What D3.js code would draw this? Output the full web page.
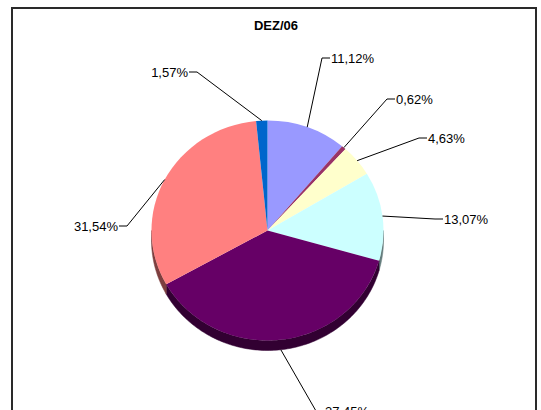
<!DOCTYPE html>
<html>
<head>
<meta charset="utf-8">
<script src="https://cdn.jsdelivr.net/npm/d3@7"></script>
<style>
  body { margin: 0; background: #fff; }
  svg { display: block; font-family: 'Liberation Sans', Arial, sans-serif; }
</style>
</head>
<body>
<svg id="chart" width="541" height="410"></svg>
<script>
// data, clockwise from 12 o'clock
const title = 'DEZ/06';
const values = [11.12, 0.62, 4.63, 13.07, 37.45, 31.54, 1.57];
const labels = ['11,12%', '0,62%', '4,63%', '13,07%', '37,45%', '31,54%', '1,57%'];
const colors = ['#9999FF', '#993366', '#FFFFCC', '#CCFFFF', '#660066', '#FF8080', '#0066CC'];

// where each label's leader bends (hand placed like in the original)
const labelBend = [[322, 58], [387, 99], [419, 138], [435, 219], [316, 411], [127, 226], [197, 72]];
const labelSide = [1, 1, 1, 1, 1, -1, -1];

const cx = 267.5, cy = 230.5, rx = 116, ry = 110, depth = 10;

const svg = d3.select('#chart');

svg.append('rect')
  .attr('x', 12).attr('y', 8)
  .attr('width', 524).attr('height', 430)
  .attr('fill', '#fff')
  .attr('stroke', '#2a2a2a')
  .attr('stroke-width', 2);

svg.append('text')
  .attr('x', 276).attr('y', 30)
  .attr('text-anchor', 'middle')
  .attr('font-size', 13)
  .attr('font-weight', 'bold')
  .text(title);

const pie = d3.pie().sort(null).startAngle(0).endAngle(2 * Math.PI);
const arcs = pie(values);

const px = (a) => cx + rx * Math.sin(a);
const py = (a) => cy - ry * Math.cos(a);

// side wall (only the front half is visible)
const sides = svg.append('g');
arcs.forEach(function (d, i) {
  const a0 = Math.max(d.startAngle, Math.PI / 2);
  const a1 = Math.min(d.endAngle, 3 * Math.PI / 2);
  if (a1 <= a0) return;
  const steps = Math.max(2, Math.ceil((a1 - a0) / 0.02));
  const top = d3.range(steps + 1).map((k) => a0 + (a1 - a0) * k / steps);
  let pts = top.map((a) => [px(a), py(a)]);
  pts = pts.concat(top.slice().reverse().map((a) => [px(a), py(a) + depth]));
  sides.append('path')
    .attr('d', d3.line()(pts) + 'Z')
    .attr('fill', d3.color(colors[i]).darker(2))
    .attr('stroke', d3.color(colors[i]).darker(2))
    .attr('stroke-width', 0.5);
});

// top face
const arc = d3.arc().innerRadius(0).outerRadius(rx);
svg.append('g')
  .attr('transform', 'translate(' + cx + ',' + cy + ') scale(1,' + (ry / rx) + ')')
  .selectAll('path')
  .data(arcs)
  .join('path')
  .attr('d', arc)
  .attr('fill', (d, i) => colors[i]);

// leaders and labels
const lab = svg.append('g');
arcs.forEach(function (d, i) {
  const mid = (d.startAngle + d.endAngle) / 2;
  let sx = px(mid), sy = py(mid);
  if (Math.cos(mid) < 0) sy += depth;
  const bx = labelBend[i][0], by = labelBend[i][1];
  const ex = bx + labelSide[i] * 8;
  lab.append('path')
    .attr('d', d3.line()([[sx, sy], [bx, by], [ex, by]]))
    .attr('fill', 'none')
    .attr('stroke', '#000')
    .attr('stroke-width', 1);
  lab.append('text')
    .attr('x', ex + labelSide[i] * 1)
    .attr('y', by)
    .attr('dy', '0.35em')
    .attr('text-anchor', labelSide[i] > 0 ? 'start' : 'end')
    .attr('font-size', 13)
    .attr('fill', '#000')
    .text(labels[i]);
});
</script>
</body>
</html>
